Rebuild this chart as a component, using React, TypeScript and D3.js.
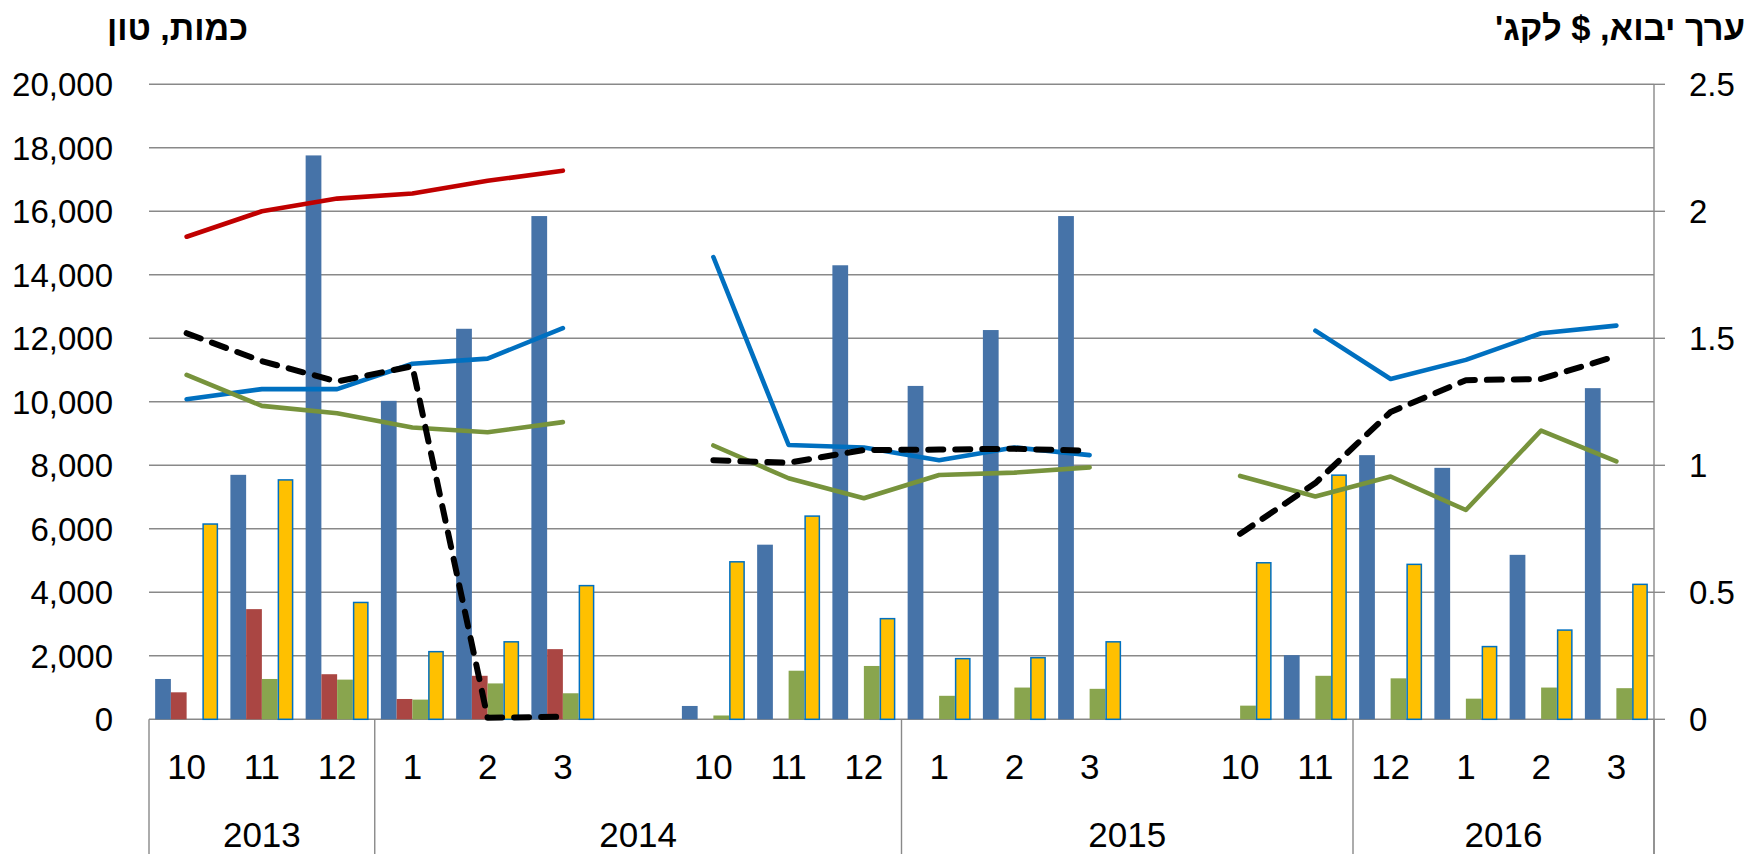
import React from "react";
import * as d3 from "d3";

// ---------- data ----------
const months = ["10", "11", "12", "1", "2", "3", "", "10", "11", "12", "1", "2", "3", "", "10", "11", "12", "1", "2", "3"];
const yearGroups = [
  { label: "2013", from: 0, to: 3 },
  { label: "2014", from: 3, to: 10 },
  { label: "2015", from: 10, to: 16 },
  { label: "2016", from: 16, to: 20 },
];

// quantities (tons) - left axis
const qtyBlue = [1270, 7700, 17760, 10030, 12300, 15850, null, 420, 5500, 14300, 10500, 12260, 15850, null, null, 2020, 8320, 7920, 5180, 10430];
const qtyRed = [850, 3470, 1420, 640, 1370, 2210, null, null, null, null, null, null, null, null, null, null, null, null, null, null];
const qtyGreen = [null, 1270, 1250, 620, 1130, 820, null, 120, 1530, 1680, 740, 1000, 960, null, 430, 1370, 1290, 650, 1000, 980];
const qtyYellow = [6150, 7540, 3680, 2130, 2440, 4210, null, 4960, 6400, 3170, 1910, 1940, 2440, null, 4930, 7690, 4880, 2290, 2810, 4250];

// import value ($/kg) - right axis
const priceRed = [1.9, 2.0, 2.05, 2.07, 2.12, 2.16, null, null, null, null, null, null, null, null, null, null, null, null, null, null];
const priceBlue = [1.26, 1.3, 1.3, 1.4, 1.42, 1.54, null, 1.82, 1.08, 1.07, 1.02, 1.07, 1.04, null, null, 1.53, 1.34, 1.415, 1.52, 1.55];
const priceGreen = [1.356, 1.234, 1.205, 1.149, 1.13, 1.17, null, 1.078, 0.949, 0.87, 0.962, 0.971, 0.992, null, 0.958, 0.877, 0.956, 0.824, 1.137, 1.015];
const priceBlack = [1.52, 1.41, 1.33, 1.39, 0.006, 0.01, null, 1.02, 1.01, 1.06, 1.062, 1.065, 1.057, null, 0.73, 0.93, 1.21, 1.335, 1.34, 1.43];

const leftTicks = [0, 2000, 4000, 6000, 8000, 10000, 12000, 14000, 16000, 18000, 20000];
const rightTicks = [0, 0.5, 1, 1.5, 2, 2.5];

const leftTitle = "כמות, טון";
const rightTitle = "ערך יבוא, $ לקג'";

// ---------- layout ----------
const W = 1748;
const H = 854;
const X0 = 149;
const X1 = 1654;
const YTOP = 84.3;
const YBOT = 719.3;
const FONT = "'Liberation Sans', Arial, sans-serif";

const barSeries = [
  { key: "blue", values: qtyBlue, fill: "#4673A8", stroke: "none" },
  { key: "red", values: qtyRed, fill: "#AA4643", stroke: "none" },
  { key: "green", values: qtyGreen, fill: "#89A54E", stroke: "none" },
  { key: "yellow", values: qtyYellow, fill: "#FFC000", stroke: "#0070C0" },
];

const lineSeries = [
  { key: "red", values: priceRed, color: "#C00000", dash: null as string | null, width: 4.6 },
  { key: "blue", values: priceBlue, color: "#0070C0", dash: null as string | null, width: 4.6 },
  { key: "green", values: priceGreen, color: "#77933C", dash: null as string | null, width: 4.6 },
  { key: "black", values: priceBlack, color: "#000000", dash: "15 12", width: 6 },
];

export default function App() {
  React.useEffect(() => {
    document.body.style.margin = "0";
  }, []);

  const idx = months.map((_, i) => i);
  const x = d3.scaleBand<number>().domain(idx).range([X0, X1]).paddingInner(0).paddingOuter(0);
  const xInner = d3
    .scaleBand<string>()
    .domain(barSeries.map((s) => s.key))
    .range([0, x.bandwidth()])
    .paddingInner(0)
    .paddingOuter(0.39);
  const yL = d3.scaleLinear().domain([0, 20000]).range([YBOT, YTOP]);
  const yR = d3.scaleLinear().domain([0, 2.5]).range([YBOT, YTOP]);
  const cx = (i: number) => (x(i) as number) + x.bandwidth() / 2;

  const line = (vals: (number | null)[]) =>
    d3
      .line<number | null>()
      .defined((d) => d != null)
      .x((_, i) => cx(i))
      .y((d) => yR(d as number))(vals) || "";

  const sepIdx = [0, ...yearGroups.map((g) => g.to)];

  return (
    <div style={{ position: "absolute", left: 0, top: 0 }}>
      <svg width={W} height={H} style={{ display: "block", background: "#fff" }}>
        {/* gridlines */}
        {leftTicks.map((t) => (
          <line key={"g" + t} x1={X0} x2={X1} y1={yL(t)} y2={yL(t)} stroke="#898989" strokeWidth={1.4} />
        ))}
        {/* right axis ticks */}
        {rightTicks.map((t) => (
          <line key={"rt" + t} x1={X1} x2={X1 + 11} y1={yR(t)} y2={yR(t)} stroke="#898989" strokeWidth={1.4} />
        ))}
        {/* right axis line */}
        <line x1={X1} x2={X1} y1={YTOP} y2={H} stroke="#898989" strokeWidth={1.4} />
        {/* category separators */}
        {sepIdx.map((i) => {
          const xx = i < months.length ? (x(i) as number) : X1;
          return <line key={"s" + i} x1={xx} x2={xx} y1={YBOT} y2={H} stroke="#898989" strokeWidth={1.4} />;
        })}

        {/* bars */}
        {barSeries.map((s) =>
          s.values.map((v, i) =>
            v == null ? null : (
              <rect
                key={s.key + i}
                x={(x(i) as number) + (xInner(s.key) as number) + (s.stroke !== "none" ? 0.75 : 0)}
                y={yL(v)}
                width={xInner.bandwidth() - (s.stroke !== "none" ? 1.5 : 0)}
                height={YBOT - yL(v)}
                fill={s.fill}
                stroke={s.stroke}
                strokeWidth={s.stroke !== "none" ? 1.5 : 0}
              />
            )
          )
        )}

        {/* lines */}
        {lineSeries.map((s) => (
          <path
            key={"l" + s.key}
            d={line(s.values)}
            fill="none"
            stroke={s.color}
            strokeWidth={s.width}
            strokeDasharray={s.dash || undefined}
            strokeLinecap="round"
            strokeLinejoin="round"
          />
        ))}

        {/* left axis labels */}
        {leftTicks.map((t) => (
          <text
            key={"ll" + t}
            x={113}
            y={yL(t)}
            dy="0.36em"
            textAnchor="end"
            fontFamily={FONT}
            fontSize={33}
            fill="#000"
          >
            {d3.format(",")(t)}
          </text>
        ))}
        {/* right axis labels */}
        {rightTicks.map((t) => (
          <text
            key={"rl" + t}
            x={1689}
            y={yR(t)}
            dy="0.36em"
            textAnchor="start"
            fontFamily={FONT}
            fontSize={33}
            fill="#000"
          >
            {String(t)}
          </text>
        ))}
        {/* month labels */}
        {months.map((m, i) =>
          m ? (
            <text key={"m" + i} x={cx(i)} y={779} textAnchor="middle" fontFamily={FONT} fontSize={35} fill="#000">
              {m}
            </text>
          ) : null
        )}
        {/* year labels */}
        {yearGroups.map((g) => {
          const a = x(g.from) as number;
          const b = g.to < months.length ? (x(g.to) as number) : X1;
          return (
            <text key={"y" + g.label} x={(a + b) / 2} y={847} textAnchor="middle" fontFamily={FONT} fontSize={35} fill="#000">
              {g.label}
            </text>
          );
        })}

        {/* axis titles */}
        <text x={177.5} y={40} textAnchor="middle" direction="rtl" fontFamily={FONT} fontWeight="bold" fontSize={34} fill="#000">
          {leftTitle}
        </text>
        <text x={1620} y={40} textAnchor="middle" direction="rtl" fontFamily={FONT} fontWeight="bold" fontSize={34.5} fill="#000">
          {rightTitle}
        </text>
      </svg>
    </div>
  );
}
